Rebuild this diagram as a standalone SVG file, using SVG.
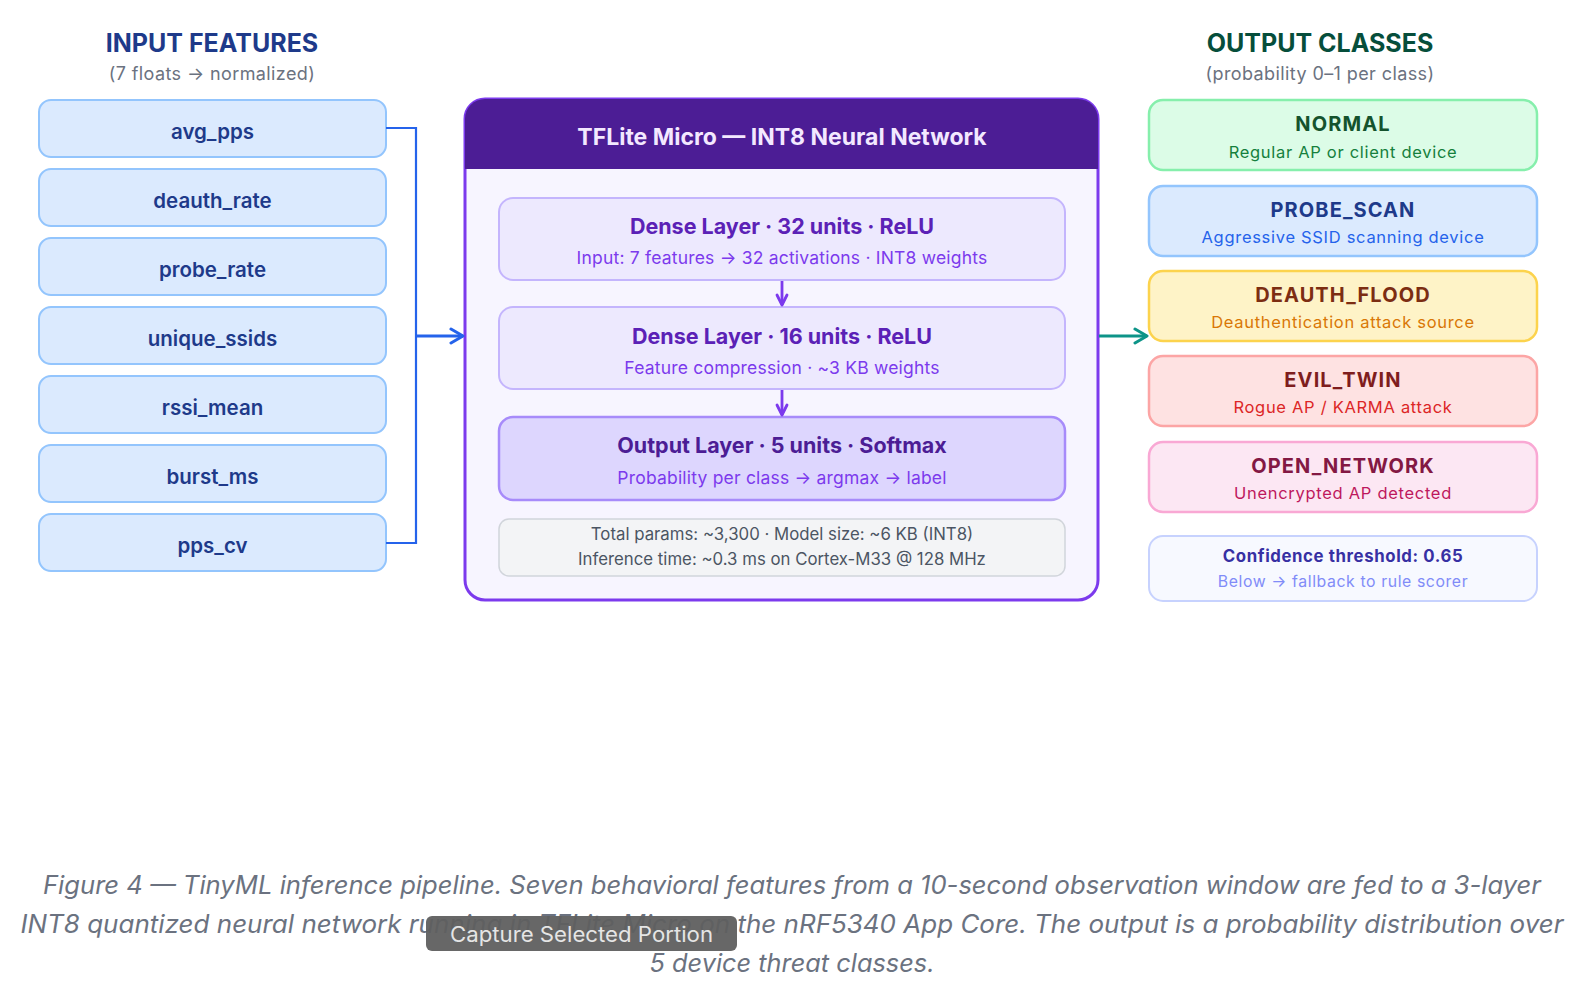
<svg xmlns="http://www.w3.org/2000/svg" width="1590" height="984" viewBox="0 0 1590 984">
<defs>
<style>
text{font-family:Inter,"Noto Sans","Liberation Sans",sans-serif;text-anchor:middle;dominant-baseline:central}
.inbox{fill:#dbeafe;stroke:#93c5fd;stroke-width:2}
.intxt{font-size:20.5px;font-weight:600;fill:#1e3a8a}
.hdr{font-size:25px;font-weight:700}
.sub{font-size:18px;fill:#6b7280;letter-spacing:0.4px}
.layer{fill:#ede9fe;stroke:#c4b5fd;stroke-width:2}
.ltitle{font-size:21.5px;font-weight:700;fill:#5b21b6}
.lsub{font-size:17.5px;fill:#7c3aed;letter-spacing:0.2px}
.ctitle{font-size:20px;font-weight:700;letter-spacing:1.1px}
.csub{font-size:16.5px;letter-spacing:0.7px}
.cap{font-size:25px;font-style:italic;fill:#6b7280}
</style>
<marker id="ab" viewBox="0 0 16 18" refX="14" refY="9" markerWidth="16" markerHeight="18" markerUnits="userSpaceOnUse" orient="auto">
<path d="M2,2 L14,9 L2,16" fill="none" stroke="#2563eb" stroke-width="3" stroke-linecap="round" stroke-linejoin="round"/>
</marker>
<marker id="ag" viewBox="0 0 16 18" refX="14" refY="9" markerWidth="16" markerHeight="18" markerUnits="userSpaceOnUse" orient="auto">
<path d="M2,2 L14,9 L2,16" fill="none" stroke="#0d9488" stroke-width="3" stroke-linecap="round" stroke-linejoin="round"/>
</marker>
<marker id="ap" viewBox="0 0 14 14" refX="12" refY="7" markerWidth="14" markerHeight="14" markerUnits="userSpaceOnUse" orient="auto">
<path d="M2,2 L12,7 L2,12" fill="none" stroke="#7c3aed" stroke-width="2.8" stroke-linecap="round" stroke-linejoin="round"/>
</marker>
</defs>
<rect width="1590" height="984" fill="#ffffff"/>

<g id="input-header">
<text x="212" y="43" class="hdr" fill="#1e3a8a">INPUT FEATURES</text>
<text x="212" y="73" class="sub">(7 floats → normalized)</text>
</g>
<g id="in-avg_pps"><rect class="inbox" x="39" y="100" width="347" height="57" rx="12"/><text class="intxt" x="212.5" y="131">avg_pps</text></g>
<g id="in-deauth_rate"><rect class="inbox" x="39" y="169" width="347" height="57" rx="12"/><text class="intxt" x="212.5" y="200">deauth_rate</text></g>
<g id="in-probe_rate"><rect class="inbox" x="39" y="238" width="347" height="57" rx="12"/><text class="intxt" x="212.5" y="269">probe_rate</text></g>
<g id="in-unique_ssids"><rect class="inbox" x="39" y="307" width="347" height="57" rx="12"/><text class="intxt" x="212.5" y="338">unique_ssids</text></g>
<g id="in-rssi_mean"><rect class="inbox" x="39" y="376" width="347" height="57" rx="12"/><text class="intxt" x="212.5" y="407">rssi_mean</text></g>
<g id="in-burst_ms"><rect class="inbox" x="39" y="445" width="347" height="57" rx="12"/><text class="intxt" x="212.5" y="476">burst_ms</text></g>
<g id="in-pps_cv"><rect class="inbox" x="39" y="514" width="347" height="57" rx="12"/><text class="intxt" x="212.5" y="545">pps_cv</text></g>

<g id="nn">
<rect x="465" y="99" width="633" height="501" rx="20" fill="#f7f5ff" stroke="#7c3aed" stroke-width="3"/>
<path d="M465,169 V119 A20,20 0 0 1 485,99 H1078 A20,20 0 0 1 1098,119 V169 Z" fill="#4c1d95"/>
<text x="782" y="137" font-size="23" font-weight="700" fill="#f3e8ff">TFLite Micro — INT8 Neural Network</text>
</g>
<g id="layer1">
<rect class="layer" x="499" y="198" width="566" height="82" rx="14"/>
<text class="ltitle" x="782" y="226">Dense Layer · 32 units · ReLU</text>
<text class="lsub" x="782" y="257">Input: 7 features → 32 activations · INT8 weights</text>
</g>
<g id="layer2">
<rect class="layer" x="499" y="307" width="566" height="82" rx="14"/>
<text class="ltitle" x="782" y="336">Dense Layer · 16 units · ReLU</text>
<text class="lsub" x="782" y="367">Feature compression · ~3 KB weights</text>
</g>
<g id="layer3">
<rect x="499" y="417" width="566" height="83" rx="14" fill="#ddd6fe" stroke="#a78bfa" stroke-width="2.5"/>
<text class="ltitle" x="782" y="445" style="fill:#4c1d95">Output Layer · 5 units · Softmax</text>
<text class="lsub" x="782" y="477">Probability per class → argmax → label</text>
</g>
<g id="stats">
<rect x="499" y="519" width="566" height="57" rx="10" fill="#f3f4f6" stroke="#d1d5db" stroke-width="1.5"/>
<text x="782" y="534" font-size="16.8" fill="#4b5563">Total params: ~3,300 · Model size: ~6 KB (INT8)</text>
<text x="782" y="559" font-size="16.8" fill="#4b5563">Inference time: ~0.3 ms on Cortex-M33 @ 128 MHz</text>
</g>

<g id="output-header">
<text x="1320" y="43" class="hdr" fill="#064e3b">OUTPUT CLASSES</text>
<text x="1320" y="73" class="sub">(probability 0–1 per class)</text>
</g>
<g id="out-normal"><rect x="1149" y="100" width="388" height="70" rx="14" fill="#dcfce7" stroke="#86efac" stroke-width="2.5"/>
<text class="ctitle" x="1343" y="124" fill="#14532d">NORMAL</text><text class="csub" x="1343" y="152" fill="#15803d">Regular AP or client device</text></g>
<g id="out-probe"><rect x="1149" y="186" width="388" height="70" rx="14" fill="#dbeafe" stroke="#93c5fd" stroke-width="2.5"/>
<text class="ctitle" x="1343" y="210" fill="#1e3a8a">PROBE_SCAN</text><text class="csub" x="1343" y="237" fill="#2563eb">Aggressive SSID scanning device</text></g>
<g id="out-deauth"><rect x="1149" y="271" width="388" height="70" rx="14" fill="#fef3c7" stroke="#fcd34d" stroke-width="2.5"/>
<text class="ctitle" x="1343" y="295" fill="#7c2d12">DEAUTH_FLOOD</text><text class="csub" x="1343" y="322" fill="#d97706">Deauthentication attack source</text></g>
<g id="out-evil"><rect x="1149" y="356" width="388" height="70" rx="14" fill="#fee2e2" stroke="#fca5a5" stroke-width="2.5"/>
<text class="ctitle" x="1343" y="380" fill="#7f1d1d">EVIL_TWIN</text><text class="csub" x="1343" y="407" fill="#dc2626">Rogue AP / KARMA attack</text></g>
<g id="out-open"><rect x="1149" y="442" width="388" height="70" rx="14" fill="#fce7f3" stroke="#f9a8d4" stroke-width="2.5"/>
<text class="ctitle" x="1343" y="466" fill="#831843">OPEN_NETWORK</text><text class="csub" x="1343" y="493" fill="#be185d">Unencrypted AP detected</text></g>
<g id="confidence"><rect x="1149" y="536" width="388" height="65" rx="14" fill="#f7f9ff" stroke="#c7d2fe" stroke-width="2"/>
<text x="1343" y="556" font-size="16.8" font-weight="700" letter-spacing="0.6" fill="#3730a3">Confidence threshold: 0.65</text>
<text x="1343" y="581" font-size="15.8" letter-spacing="0.6" fill="#818cf8">Below → fallback to rule scorer</text></g>

<g id="connectors" fill="none">
<path d="M386,128 H416 V543 H386" stroke="#2563eb" stroke-width="2.2"/>
<line x1="416" y1="336" x2="463" y2="336" stroke="#2563eb" stroke-width="3" marker-end="url(#ab)"/>
<line x1="1099" y1="336" x2="1147" y2="336" stroke="#0d9488" stroke-width="3" marker-end="url(#ag)"/>
<line x1="782" y1="281" x2="782" y2="305" stroke="#7c3aed" stroke-width="2.8" marker-end="url(#ap)"/>
<line x1="782" y1="390" x2="782" y2="415" stroke="#7c3aed" stroke-width="2.8" marker-end="url(#ap)"/>
</g>

<g id="caption">
<text class="cap" x="792" y="885" textLength="1498" lengthAdjust="spacingAndGlyphs">Figure 4 — TinyML inference pipeline. Seven behavioral features from a 10-second observation window are fed to a 3-layer</text>
<text class="cap" x="792" y="924" textLength="1543" lengthAdjust="spacingAndGlyphs">INT8 quantized neural network running in TFLite Micro on the nRF5340 App Core. The output is a probability distribution over</text>
<text class="cap" x="792" y="963" textLength="285" lengthAdjust="spacingAndGlyphs">5 device threat classes.</text>
</g>
<g id="overlay">
<rect x="426" y="916" width="311" height="35" rx="6" fill="#5f5f5f" fill-opacity="0.95"/>
<text x="581.5" y="934" font-size="21" fill="#e5e5e5" textLength="263" lengthAdjust="spacingAndGlyphs">Capture Selected Portion</text>
</g>
</svg>
